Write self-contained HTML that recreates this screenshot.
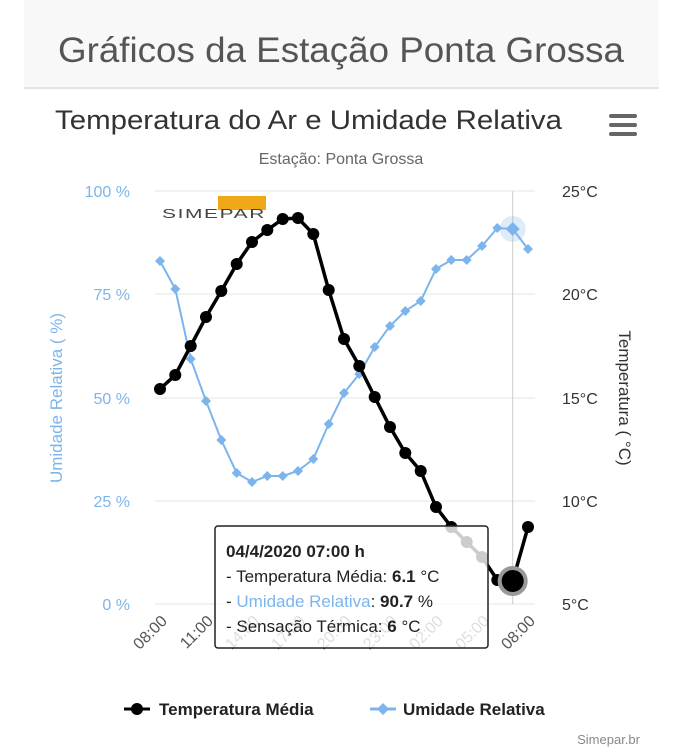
<!DOCTYPE html>
<html><head><meta charset="utf-8"><style>
body{margin:0;width:682px;height:750px;background:#fff;overflow:hidden;font-family:"Liberation Sans",sans-serif}
</style></head><body>
<svg width="682" height="750" xmlns="http://www.w3.org/2000/svg" font-family="Liberation Sans, sans-serif">
<rect x="24" y="0" width="635" height="88" fill="#f8f8f8"/>
<line x1="24" y1="88" x2="659" y2="88" stroke="#e4e4e4" stroke-width="2"/>
<text x="341" y="62" text-anchor="middle" font-size="35" fill="#555" textLength="566" lengthAdjust="spacingAndGlyphs">Gráficos da Estação Ponta Grossa</text>
<text x="55" y="129" font-size="27" fill="#333" textLength="507" lengthAdjust="spacingAndGlyphs">Temperatura do Ar e Umidade Relativa</text>
<g fill="#666"><rect x="609" y="114" width="28" height="4" rx="2"/><rect x="609" y="123" width="28" height="4" rx="2"/><rect x="609" y="132" width="28" height="4" rx="2"/></g>
<text x="341" y="164" text-anchor="middle" font-size="16" fill="#666">Estação: Ponta Grossa</text>
<g stroke="#e6e6e6" stroke-width="1">
<line x1="155" y1="191" x2="535" y2="191"/><line x1="155" y1="294" x2="535" y2="294"/><line x1="155" y1="398" x2="535" y2="398"/><line x1="155" y1="501" x2="535" y2="501"/><line x1="155" y1="604" x2="535" y2="604"/>
</g>
<line x1="512.7" y1="191" x2="512.7" y2="604" stroke="#ccc"/>
<g font-size="16" fill="#7cb5ec" text-anchor="end">
<text x="130" y="197">100 %</text><text x="130" y="300">75 %</text><text x="130" y="404">50 %</text><text x="130" y="507">25 %</text><text x="130" y="610">0 %</text></g>
<g font-size="16" fill="#333">
<text x="562" y="197">25°C</text><text x="562" y="300">20°C</text><text x="562" y="404">15°C</text><text x="562" y="507">10°C</text><text x="562" y="610">5°C</text></g>
<text transform="translate(62,398) rotate(-90)" text-anchor="middle" font-size="17" fill="#7cb5ec">Umidade Relativa ( %)</text>
<text transform="translate(619,398) rotate(90)" text-anchor="middle" font-size="17" fill="#333">Temperatura ( °C)</text>
<rect x="218" y="196" width="48" height="14" fill="#f0a818"/>
<text x="162" y="218" font-size="13" fill="#444" letter-spacing="1" textLength="104" lengthAdjust="spacingAndGlyphs">SIMEPAR</text>
<g font-size="16" fill="#555" text-anchor="end">
<text transform="translate(168,622) rotate(-45)">08:00</text>
<text transform="translate(214,622) rotate(-45)">11:00</text>
<text transform="translate(260,622) rotate(-45)">14:00</text>
<text transform="translate(306,622) rotate(-45)">17:00</text>
<text transform="translate(352,622) rotate(-45)">20:00</text>
<text transform="translate(398,622) rotate(-45)">23:00</text>
<text transform="translate(444,622) rotate(-45)">02:00</text>
<text transform="translate(490,622) rotate(-45)">05:00</text>
<text transform="translate(536,622) rotate(-45)">08:00</text>
</g>
<circle cx="512.7" cy="229" r="13" fill="#7cb5ec" opacity="0.25"/>
<polyline fill="none" stroke="#7cb5ec" stroke-width="2" points="160,261 175.3,289 190.7,359 206,401 221.3,440 236.7,473 252,482 267.3,476 282.7,476 298,471 313.3,459 328.7,424 344,393 359.3,374 374.7,347 390,326 405.3,311 420.7,301 436,269 451.3,260 466.7,260 482,246 497.3,228 512.7,229 528,249"/>
<g fill="#7cb5ec">
<path d="M160 256l5 5-5 5-5-5z"/><path d="M175.3 284l5 5-5 5-5-5z"/><path d="M190.7 354l5 5-5 5-5-5z"/><path d="M206 396l5 5-5 5-5-5z"/><path d="M221.3 435l5 5-5 5-5-5z"/><path d="M236.7 468l5 5-5 5-5-5z"/><path d="M252 477l5 5-5 5-5-5z"/><path d="M267.3 471l5 5-5 5-5-5z"/><path d="M282.7 471l5 5-5 5-5-5z"/><path d="M298 466l5 5-5 5-5-5z"/><path d="M313.3 454l5 5-5 5-5-5z"/><path d="M328.7 419l5 5-5 5-5-5z"/><path d="M344 388l5 5-5 5-5-5z"/><path d="M359.3 369l5 5-5 5-5-5z"/><path d="M374.7 342l5 5-5 5-5-5z"/><path d="M390 321l5 5-5 5-5-5z"/><path d="M405.3 306l5 5-5 5-5-5z"/><path d="M420.7 296l5 5-5 5-5-5z"/><path d="M436 264l5 5-5 5-5-5z"/><path d="M451.3 255l5 5-5 5-5-5z"/><path d="M466.7 255l5 5-5 5-5-5z"/><path d="M482 241l5 5-5 5-5-5z"/><path d="M497.3 223l5 5-5 5-5-5z"/><path d="M512.7 222l7 7-7 7-7-7z"/><path d="M528 244l5 5-5 5-5-5z"/>
</g>
<polyline fill="none" stroke="#000" stroke-width="3.5" points="160,389 175.3,375 190.7,346 206,317 221.3,291 236.7,264 252,242 267.3,230 282.7,219 298,218 313.3,234 328.7,290 344,339 359.3,366 374.7,397 390,427 405.3,453 420.7,471 436,507 451.3,527 466.7,542 482,557 497.3,580 512.7,581 528,527"/>
<g fill="#000">
<circle cx="160" cy="389" r="6"/><circle cx="175.3" cy="375" r="6"/><circle cx="190.7" cy="346" r="6"/><circle cx="206" cy="317" r="6"/><circle cx="221.3" cy="291" r="6"/><circle cx="236.7" cy="264" r="6"/><circle cx="252" cy="242" r="6"/><circle cx="267.3" cy="230" r="6"/><circle cx="282.7" cy="219" r="6"/><circle cx="298" cy="218" r="6"/><circle cx="313.3" cy="234" r="6"/><circle cx="328.7" cy="290" r="6"/><circle cx="344" cy="339" r="6"/><circle cx="359.3" cy="366" r="6"/><circle cx="374.7" cy="397" r="6"/><circle cx="390" cy="427" r="6"/><circle cx="405.3" cy="453" r="6"/><circle cx="420.7" cy="471" r="6"/><circle cx="436" cy="507" r="6"/><circle cx="451.3" cy="527" r="6"/><circle cx="466.7" cy="542" r="6"/><circle cx="482" cy="557" r="6"/><circle cx="497.3" cy="580" r="6"/><circle cx="528" cy="527" r="6"/>
</g>
<circle cx="512.7" cy="581" r="13" fill="#000" stroke="#999" stroke-width="4"/>
<rect x="215" y="526" width="273" height="122" rx="3" fill="#fff" fill-opacity="0.8" stroke="#222" stroke-width="1.5"/>
<g font-size="17" fill="#222">
<text x="226" y="557" font-weight="bold" font-size="17">04/4/2020 07:00 h</text>
<text x="226" y="582">- Temperatura Média: <tspan font-weight="bold">6.1</tspan> °C</text>
<text x="226" y="607">- <tspan fill="#7cb5ec">Umidade Relativa</tspan>: <tspan font-weight="bold">90.7</tspan> %</text>
<text x="226" y="632">- Sensação Térmica: <tspan font-weight="bold">6</tspan> °C</text>
</g>
<line x1="124" y1="709" x2="150" y2="709" stroke="#000" stroke-width="3"/><circle cx="137" cy="709" r="6" fill="#000"/>
<text x="159" y="715" font-size="17" font-weight="bold" fill="#222">Temperatura Média</text>
<line x1="370" y1="709" x2="396" y2="709" stroke="#7cb5ec" stroke-width="3"/><path d="M383 703l6 6-6 6-6-6z" fill="#7cb5ec"/>
<text x="403" y="715" font-size="17" font-weight="bold" fill="#222">Umidade Relativa</text>
<text x="640" y="744" text-anchor="end" font-size="13" fill="#888">Simepar.br</text>
</svg>
</body></html>
